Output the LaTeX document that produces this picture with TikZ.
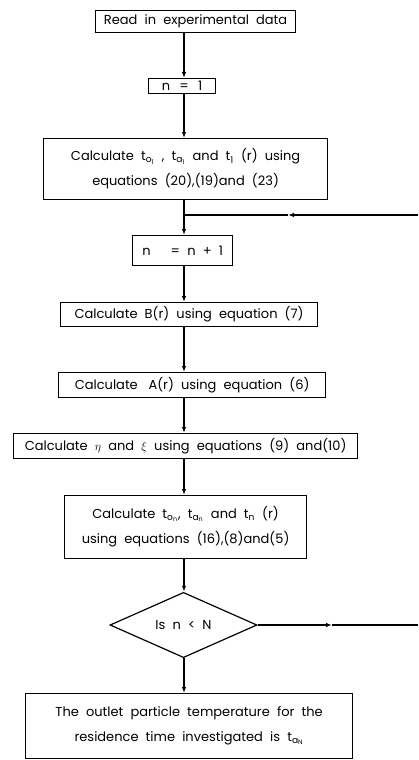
\documentclass[tikz,border=0pt]{standalone}
\usepackage{fontspec}
\setmainfont{Poppins}
\usetikzlibrary{shapes.geometric,arrows.meta}
\newcommand\tsb[2]{t\textsubscript{#1\textsubscript{#2}}}
\newcommand\bigfont{\fontsize{13}{25}\selectfont\spaceskip=0.55em plus 0.1em minus 0.05em\relax}
\begin{document}
\begin{tikzpicture}[x=1pt,y=-1pt,
  box/.style={draw,line width=1.2pt,inner sep=0pt,align=center,anchor=north west,
    font=\bigfont},
  flow/.style={line width=1.8pt,-{Latex[length=6pt,width=4.5pt]}},
  plain/.style={line width=1.8pt}]
\useasboundingbox (0,0) rectangle (418,760);
\node[box,minimum width=200pt,minimum height=22pt] (read) at (95,10) {Read in experimental data};
\node[box,minimum width=67pt,minimum height=15pt] (n1) at (148,78) {n \,=\, 1};
\node[box,minimum width=284pt,minimum height=61pt] (calc) at (43,138)
  {Calculate \tsb{o}{1} , \tsb{a}{1} and t\textsubscript{1} (r) using\\ equations (20),(19)and (23)};
\node[box,minimum width=100pt,minimum height=30pt] (nn) at (132,235) {n \quad = n + 1};
\node[box,minimum width=257pt,minimum height=24pt] (bb) at (60,302) {Calculate B(r) using equation (7)};
\node[box,minimum width=267pt,minimum height=25pt] (aa) at (58,372) {Calculate \;A(r) using equation (6)};
\node[box,minimum width=344pt,minimum height=25pt] (eta) at (13,433) {Calculate $\eta$ and $\xi$ using equations (9) and(10)};
\node[box,minimum width=242pt,minimum height=63pt] (tn) at (64,495)
  {Calculate \tsb{o}{n}, \tsb{a}{n} and t\textsubscript{n} (r)\\ using equations (16),(8)and(5)};
\node[draw,diamond,line width=1.2pt,inner sep=0pt,minimum width=147pt,minimum height=44pt,
  font=\bigfont] (dia) at (183.5,625) {Is n < N};
\node[box,minimum width=327pt,minimum height=65pt] (fin) at (25,693)
  {The outlet particle temperature for the\\ residence time investigated is \tsb{a}{N}};
\coordinate (sp) at (184,0);
\coordinate (jn) at (184,215);
\coordinate (m1) at (288,215);
\coordinate (r1) at (418,215);
\coordinate (m2) at (332,625);
\coordinate (r2) at (418,625);
\draw[flow] (read.south -| sp) -- (n1.north -| sp);
\draw[flow] (n1.south -| sp) -- (calc.north -| sp);
\draw[plain] (calc.south -| sp) -- (jn);
\draw[flow] (jn) -- (nn.north -| sp);
\draw[flow] (nn.south -| sp) -- (bb.north -| sp);
\draw[flow] (bb.south -| sp) -- (aa.north -| sp);
\draw[flow] (aa.south -| sp) -- (eta.north -| sp);
\draw[flow] (eta.south -| sp) -- (tn.north -| sp);
\draw[flow] (tn.south -| sp) -- (dia.north -| sp);
\draw[flow] (dia.south -| sp) -- (fin.north -| sp);
\draw[flow] (r1) -- (m1);
\draw[plain] (m1) -- (jn);
\draw[flow] (dia.east) -- (m2);
\draw[plain] (m2) -- (r2);
\end{tikzpicture}
\end{document}
